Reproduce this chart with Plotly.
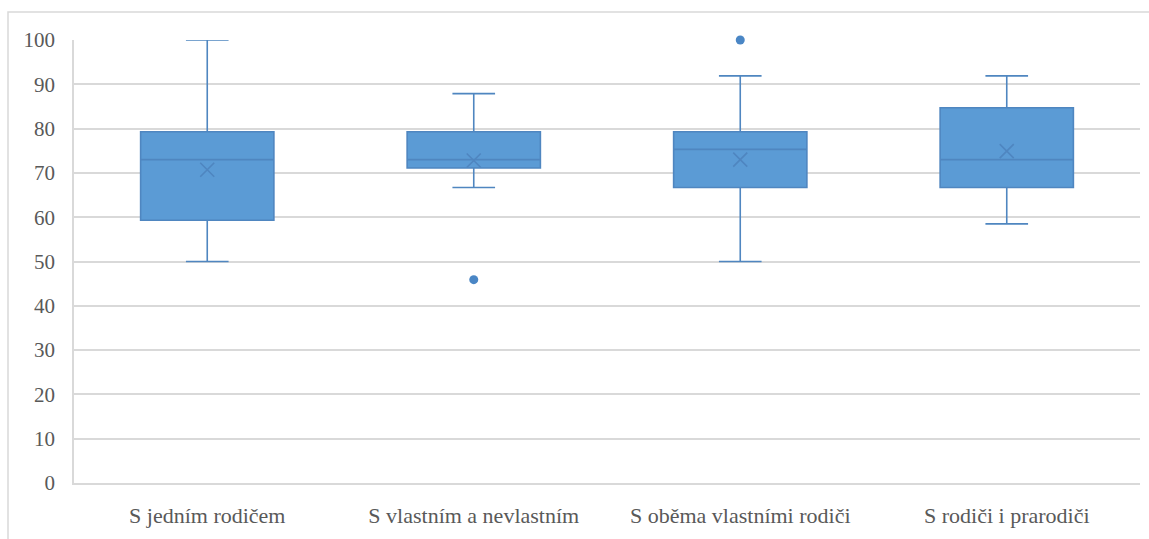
import plotly.graph_objects as go

categories = ["S jedním rodičem", "S vlastním a nevlastním", "S oběma vlastními rodiči", "S rodiči i prarodiči"]
q1 = [59.3, 71.1, 66.7, 66.7]
median = [73.0, 73.0, 75.3, 73.0]
q3 = [79.3, 79.3, 79.3, 84.7]
lower_whisker = [50.0, 66.7, 50.0, 58.5]
upper_whisker = [100.0, 87.9, 91.9, 91.9]
means = [70.7, 72.8, 73.0, 74.9]
outlier_cats = ["S vlastním a nevlastním", "S oběma vlastními rodiči"]
outlier_vals = [45.9, 100.0]
y_ticks = list(range(0, 101, 10))

FILL = "#5B9BD5"
LINE = "#4F86C0"
GRID = "#D9D9D9"
TXT = "#595959"
FONT = "Liberation Serif, Times New Roman, DejaVu Serif, serif"

W, H = 1149, 539
ML, MR, MT, MB = 74, 9, 40, 56
pw, ph = W - ML - MR, H - MT - MB

fig = go.Figure()
fig.add_trace(go.Box(
    x=categories, q1=q1, median=median, q3=q3,
    lowerfence=lower_whisker, upperfence=upper_whisker,
    boxpoints=False, width=0.5, whiskerwidth=0.32,
    fillcolor=FILL, line=dict(color=LINE, width=1.6),
    showlegend=False, hoverinfo="skip",
))
fig.add_trace(go.Scatter(
    x=categories, y=means, mode="markers",
    marker=dict(symbol="x-thin", size=14, line=dict(color=LINE, width=1.6)),
    showlegend=False, hoverinfo="skip", cliponaxis=False,
))
fig.add_trace(go.Scatter(
    x=outlier_cats, y=outlier_vals, mode="markers",
    marker=dict(symbol="circle", size=9, color="#4A86C5"),
    showlegend=False, hoverinfo="skip", cliponaxis=False,
))

# chart-area border (Excel style)
fig.add_shape(type="rect", xref="paper", yref="paper",
              x0=(8 - ML) / pw, x1=(W + 5 - ML) / pw,
              y0=-(H + 5 - MT - ph) / ph, y1=(MT + ph - 12) / ph,
              line=dict(color=GRID, width=1.5), fillcolor="rgba(0,0,0,0)", layer="below")

fig.update_layout(
    width=W, height=H,
    margin=dict(l=ML, r=MR, t=MT, b=MB),
    paper_bgcolor="white", plot_bgcolor="white",
    font=dict(family=FONT, size=21, color=TXT),
    xaxis=dict(type="category", categoryorder="array", categoryarray=categories,
               range=[-0.5, 3.5], showgrid=False, showline=True, linecolor=GRID,
               linewidth=1.5, ticks="", ticklabelstandoff=12,
               tickfont=dict(family=FONT, size=22, color=TXT)),
    yaxis=dict(range=[0, 100], tickvals=y_ticks, showgrid=True, gridcolor=GRID,
               gridwidth=1.5, showline=True, linecolor=GRID, linewidth=1.5,
               zeroline=False, ticks="", ticklabelstandoff=13,
               tickfont=dict(family=FONT, size=21, color=TXT)),
)

fig.write_html("out.html")
